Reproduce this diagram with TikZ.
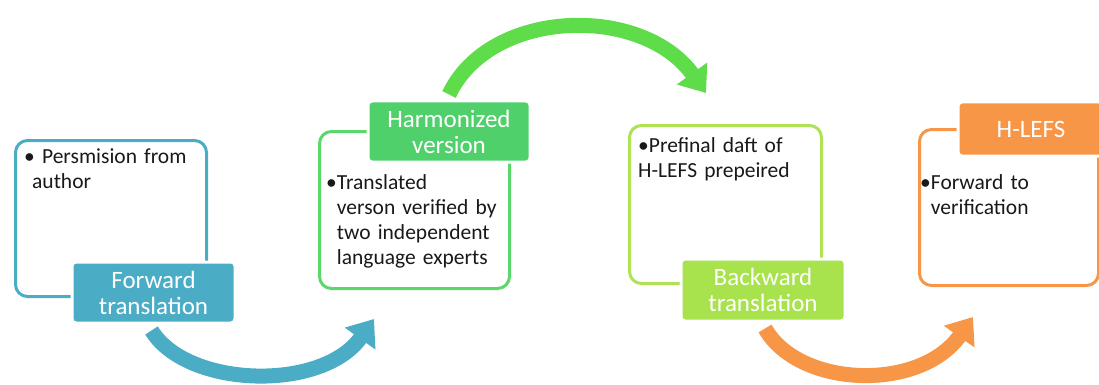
\documentclass[tikz,border=0pt]{standalone}
\usepackage{fontspec}
\setmainfont{Carlito}
\usetikzlibrary{arrows.meta}
\definecolor{cblue}{HTML}{4BACC6}
\definecolor{cgreen}{HTML}{4FD06B}
\definecolor{cgreenline}{HTML}{5AD86C}
\definecolor{carrowg}{HTML}{5EDC4A}
\definecolor{clime}{HTML}{A8E24C}
\definecolor{climeline}{HTML}{AEE356}
\definecolor{corange}{HTML}{F79646}
\begin{document}
\begin{tikzpicture}[x=1pt,y=-1pt,
  outbox/.style={draw=#1, line width=3pt, rounded corners=12pt, anchor=north west, inner sep=0pt},
  labelbox/.style={fill=#1, draw=white, line width=3pt, rounded corners=4pt, text=white, align=center,
    font=\fontsize{25}{26}\selectfont, inner sep=0pt},
  bodytext/.style={anchor=north west, align=left, inner sep=0pt, font=\fontsize{21.5}{25}\selectfont, text=black!90},
  bigarrow/.style={draw=#1, line width=15pt, -{Triangle[length=24pt,width=36pt]}}]
\clip (0,0) rectangle (1099,385);
\fill[white] (0,0) rectangle (1099,385);

% outline boxes
\node[outbox=cblue, minimum width=191pt, minimum height=156pt] (b1) at (14,139) {};
\node[outbox=cgreenline, minimum width=190pt, minimum height=157pt] (b2) at (318,130) {};
\node[outbox=climeline, minimum width=192pt, minimum height=158pt] (b3) at (628,124) {};
\node[outbox=corange, minimum width=179pt, minimum height=156pt] (b4) at (918,128) {};

% body texts
\node[bodytext, text width=185pt] (t1) at (24,149) {• Persmision from\\\hspace*{8pt}author};
\node[bodytext, text width=185pt] (t2) at (326,174) {•Translated\\\hphantom{•}verson verified by\\\hphantom{•}two independent\\\hphantom{•}language experts};
\node[bodytext, text width=185pt] (t3) at (638,137) {•Prefinal daft of\\H-LEFS prepeired};
\node[bodytext, text width=175pt] (t4) at (920,174) {•Forward to\\\hphantom{•}verification};

% label boxes
\node[labelbox=cblue, minimum width=163pt, minimum height=61pt] (l1) at (153.5,292.5) {Forward\\translation};
\node[labelbox=cgreen, minimum width=162pt, minimum height=61pt] (l2) at (449,131.5) {Harmonized\\version};
\node[labelbox=clime, minimum width=164pt, minimum height=62pt] (l3) at (763,290) {Backward\\translation};
\node[labelbox=corange, minimum width=146pt, minimum height=54pt] (l4) at (1031,129) {H-LEFS};

% arrow ends
\coordinate (e1) at (374,319);
\coordinate (e2) at (706,93);
\coordinate (e3) at (973,317);

\draw[bigarrow=cblue] ([xshift=-2pt,yshift=-6pt]l1.south) .. controls (187,388) and (322,392) .. (e1);
\draw[bigarrow=carrowg] ([yshift=5pt]l2.north) .. controls (490,8) and (642,4) .. (e2);
\draw[bigarrow=corange] ([xshift=2pt,yshift=-6pt]l3.south) .. controls (799,388) and (920,392) .. (e3);
\end{tikzpicture}
\end{document}
